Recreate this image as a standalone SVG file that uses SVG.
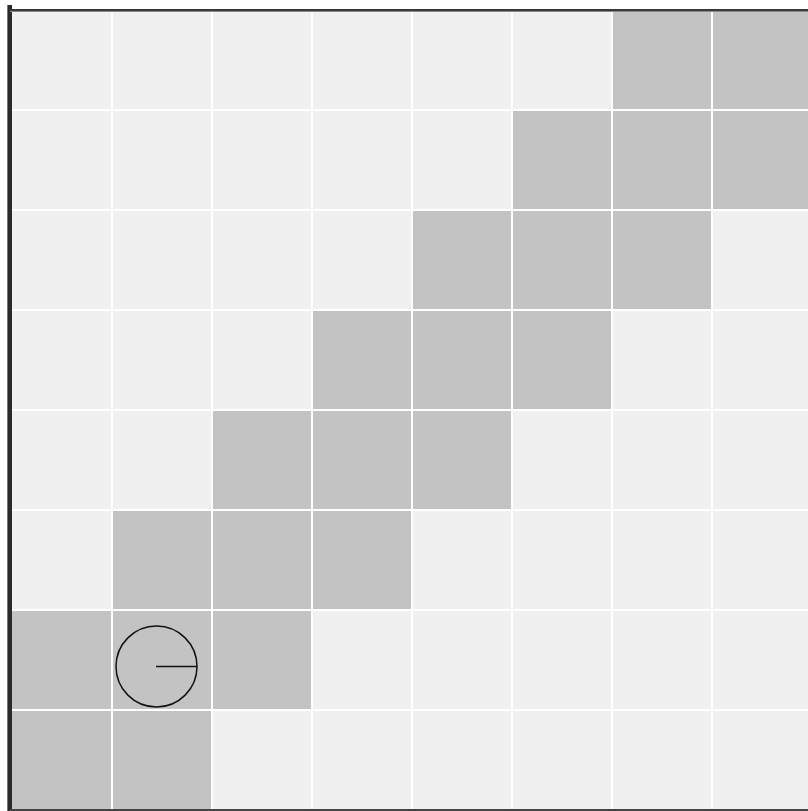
<svg xmlns="http://www.w3.org/2000/svg" width="808" height="811" viewBox="0 0 808 811">
<style>
.l{fill:#f0f0f0}
.d{fill:#c3c3c3}
</style>
<rect x="0" y="0" width="808" height="811" fill="#ffffff"/>
<g id="cells">
<g id="row0"><rect class="l" x="12" y="11" width="99" height="98"/><rect class="l" x="113" y="11" width="98" height="98"/><rect class="l" x="213" y="11" width="98" height="98"/><rect class="l" x="313" y="11" width="98" height="98"/><rect class="l" x="413" y="11" width="98" height="98"/><rect class="l" x="513" y="11" width="98" height="98"/><rect class="d" x="613" y="11" width="98" height="98"/><rect class="d" x="713" y="11" width="98" height="98"/></g>
<g id="row1"><rect class="l" x="12" y="111" width="99" height="98"/><rect class="l" x="113" y="111" width="98" height="98"/><rect class="l" x="213" y="111" width="98" height="98"/><rect class="l" x="313" y="111" width="98" height="98"/><rect class="l" x="413" y="111" width="98" height="98"/><rect class="d" x="513" y="111" width="98" height="98"/><rect class="d" x="613" y="111" width="98" height="98"/><rect class="d" x="713" y="111" width="98" height="98"/></g>
<g id="row2"><rect class="l" x="12" y="211" width="99" height="98"/><rect class="l" x="113" y="211" width="98" height="98"/><rect class="l" x="213" y="211" width="98" height="98"/><rect class="l" x="313" y="211" width="98" height="98"/><rect class="d" x="413" y="211" width="98" height="98"/><rect class="d" x="513" y="211" width="98" height="98"/><rect class="d" x="613" y="211" width="98" height="98"/><rect class="l" x="713" y="211" width="98" height="98"/></g>
<g id="row3"><rect class="l" x="12" y="311" width="99" height="98"/><rect class="l" x="113" y="311" width="98" height="98"/><rect class="l" x="213" y="311" width="98" height="98"/><rect class="d" x="313" y="311" width="98" height="98"/><rect class="d" x="413" y="311" width="98" height="98"/><rect class="d" x="513" y="311" width="98" height="98"/><rect class="l" x="613" y="311" width="98" height="98"/><rect class="l" x="713" y="311" width="98" height="98"/></g>
<g id="row4"><rect class="l" x="12" y="411" width="99" height="98"/><rect class="l" x="113" y="411" width="98" height="98"/><rect class="d" x="213" y="411" width="98" height="98"/><rect class="d" x="313" y="411" width="98" height="98"/><rect class="d" x="413" y="411" width="98" height="98"/><rect class="l" x="513" y="411" width="98" height="98"/><rect class="l" x="613" y="411" width="98" height="98"/><rect class="l" x="713" y="411" width="98" height="98"/></g>
<g id="row5"><rect class="l" x="12" y="511" width="99" height="98"/><rect class="d" x="113" y="511" width="98" height="98"/><rect class="d" x="213" y="511" width="98" height="98"/><rect class="d" x="313" y="511" width="98" height="98"/><rect class="l" x="413" y="511" width="98" height="98"/><rect class="l" x="513" y="511" width="98" height="98"/><rect class="l" x="613" y="511" width="98" height="98"/><rect class="l" x="713" y="511" width="98" height="98"/></g>
<g id="row6"><rect class="d" x="12" y="611" width="99" height="98"/><rect class="d" x="113" y="611" width="98" height="98"/><rect class="d" x="213" y="611" width="98" height="98"/><rect class="l" x="313" y="611" width="98" height="98"/><rect class="l" x="413" y="611" width="98" height="98"/><rect class="l" x="513" y="611" width="98" height="98"/><rect class="l" x="613" y="611" width="98" height="98"/><rect class="l" x="713" y="611" width="98" height="98"/></g>
<g id="row7"><rect class="d" x="12" y="711" width="99" height="98"/><rect class="d" x="113" y="711" width="98" height="98"/><rect class="l" x="213" y="711" width="98" height="98"/><rect class="l" x="313" y="711" width="98" height="98"/><rect class="l" x="413" y="711" width="98" height="98"/><rect class="l" x="513" y="711" width="98" height="98"/><rect class="l" x="613" y="711" width="98" height="98"/><rect class="l" x="713" y="711" width="98" height="98"/></g>
</g>
<g id="border">
<rect x="7" y="5" width="1" height="806" fill="#777777"/>
<rect x="8" y="5" width="4" height="806" fill="#2a2a2a"/>
<rect x="10" y="9" width="798" height="2" fill="#3a3a3a"/>
<rect x="10" y="11" width="798" height="1" fill="#888888"/>
<rect x="10" y="809" width="798" height="2" fill="#444444"/>
</g>
<g id="agent" fill="none" stroke="#111111" stroke-width="1.5">
<circle cx="156.5" cy="666.5" r="40.5"/>
<line x1="156" y1="666.5" x2="197" y2="666.5"/>
</g>
</svg>
